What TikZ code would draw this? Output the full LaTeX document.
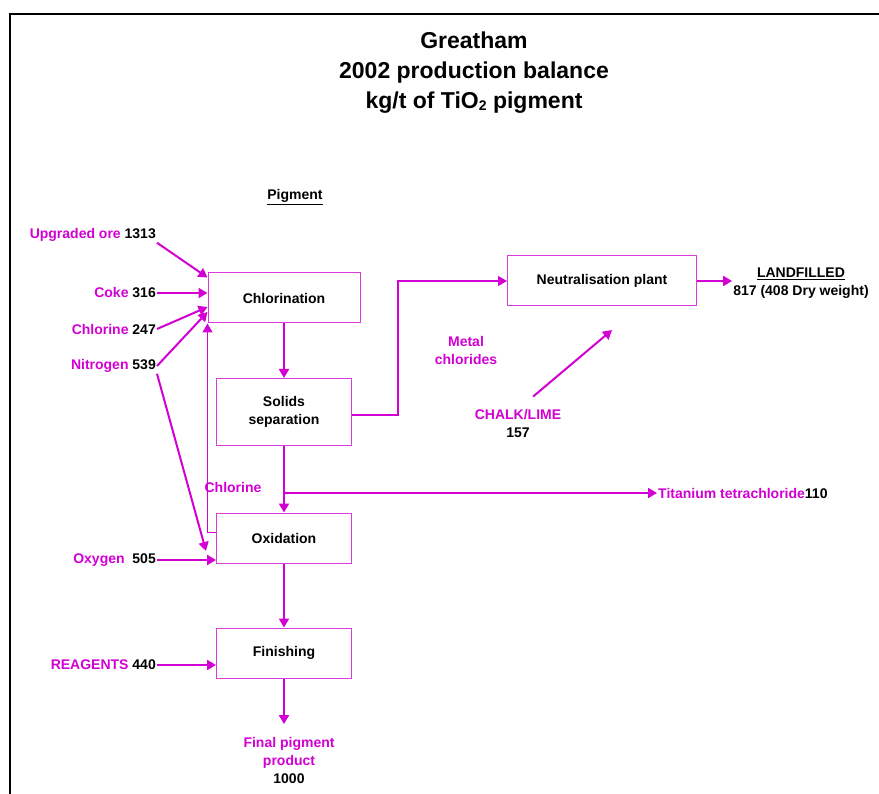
\documentclass[tikz,border=0pt]{standalone}
\usepackage{fontspec}
\setmainfont{Liberation Sans}
\usetikzlibrary{arrows.meta,positioning}
\definecolor{mag}{RGB}{210,0,210}
\definecolor{boxmag}{RGB}{218,60,218}

\begin{document}
\begin{tikzpicture}[x=1pt,y=-1pt,on grid,
    font=\bfseries\fontsize{14}{18}\selectfont,
    proc/.style={draw=boxmag,line width=1pt,minimum width=135pt,minimum height=50pt,inner sep=0pt},
    flow/.style={mag,line width=2pt,-{Triangle[length=9pt,width=10pt]}},
    side/.style={mag,inner sep=1pt,align=center}]
                        \useasboundingbox (0,0) rectangle (879,794);
                        \draw[line width=2pt] (10,794) -- (10,14) -- (879,14);
                        % title
                        \node[align=center,font=\bfseries\fontsize{23}{30}\selectfont] (Title) at (474,73)
                            {Greatham\\2002 production balance\\kg/t of TiO\raisebox{-2pt}{\fontsize{14}{14}\selectfont 2} pigment};
                        \node (Pig) at (295,197) {\underline{Pigment}};
                        % process steps
                        \node[proc,minimum width=152pt] (Chl) at (284,298) {Chlorination};
                        \node[proc,minimum height=67pt,align=center] (Sol) [below=114pt of Chl] {Solids\\separation};
                        \node[proc] (Oxi) [below=126pt of Sol] {Oxidation};
                        \node[proc] (Fin) [below=115pt of Oxi] {Finishing};
                        \node[proc,minimum width=189pt] (Neu) at (602,281) {Neutralisation plant};
                        % inputs and outputs
                        \node[side,anchor=east] (Ore) at (157,235) {Upgraded ore \textcolor{black}{1313}};
                        \node[side,anchor=east] (Coke) at (157,293) {Coke \textcolor{black}{316}};
                        \node[side,anchor=east] (Clin) at (157,329) {Chlorine \textcolor{black}{247}};
                        \node[side,anchor=east] (Nit) at (157,366) {Nitrogen \textcolor{black}{539}};
                        \node[side,anchor=east] (Oxy) at (157,560) {Oxygen\ \ \textcolor{black}{505}};
                        \node[side,anchor=east] (Rea) at (157,665) {REAGENTS \textcolor{black}{440}};
                        \node[side] (Clrec) at (233,487) {Chlorine};
                        \node[side] (Met) at (466,350) {Metal\\chlorides};
                        \node[side] (Lime) at (518,423) {CHALK/LIME\\\textcolor{black}{157}};
                        \node[side,anchor=west] (Tic) at (657,493) {Titanium tetrachloride\textcolor{black}{110}};
                        \node[align=center,inner sep=1pt] (Land) at (801,283) {\underline{LANDFILLED}\\817 (408 Dry weight)};
                        \node[side] (Prod) at (289,760) {Final pigment\\product\\\textcolor{black}{1000}};
                        \coordinate (Tee) at (284,493);
                        \coordinate (Out) at (284,724);
                        \coordinate (Dose) at (612,330);
                        \path[flow]
                            (Ore.south east) edge ([yshift=-5pt]Chl.north west)
                            (Coke) edge (Coke -| Chl.west)
                            (Clin.east) edge ([yshift=-9pt]Chl.west)
                            (Nit.east) edge ([yshift=-14pt]Chl.west)
                            (Nit.south east) edge ([shift={(-10pt,-13pt)}]Oxi.west)
                            (Oxy) edge (Oxy -| Oxi.west)
                            (Rea) edge (Rea -| Fin.west)
                            (Chl) edge (Sol)
                            (Sol) edge (Oxi)
                            (Oxi) edge (Fin)
                            (Fin) edge (Out)
                            (Tee) edge (Tic)
                            (Neu) edge (Neu -| Land.west)
                            ([shift={(15pt,11pt)}]Lime.north) edge (Dose);
                        \draw[flow,line width=1.2pt] ([yshift=-20pt]Oxi.north west) -| (Chl.south west);
                        \draw[flow,line width=1.2pt] ([yshift=-3pt]Sol.east) -- ++(46,0) |- (Neu.west);
                    \end{tikzpicture}
\end{document}
